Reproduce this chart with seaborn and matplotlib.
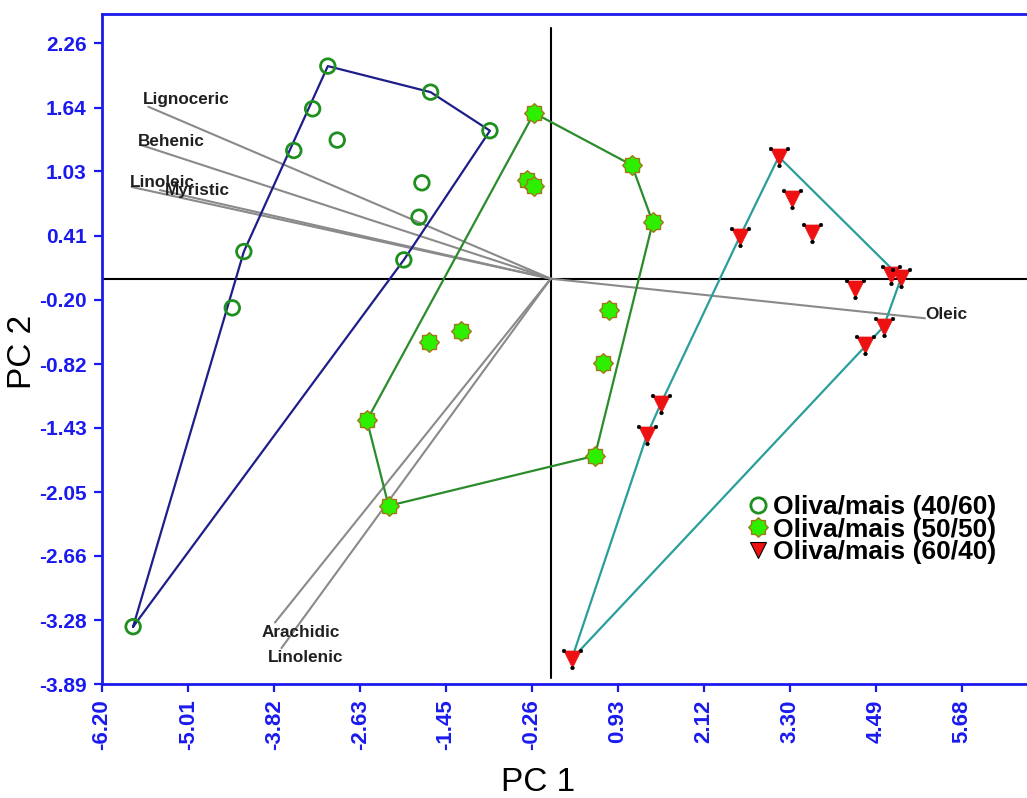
import numpy as np
import pandas as pd
import matplotlib
matplotlib.use("Agg")
import matplotlib.pyplot as plt
import seaborn as sns
from matplotlib.path import Path
from matplotlib.lines import Line2D

# ---- PCA scores (PC 1, PC 2) per blend ----
groups = ["Oliva/mais (40/60)", "Oliva/mais (50/50)", "Oliva/mais (60/40)"]

pc1_4060 = [-5.77, -4.40, -4.24, -3.55, -3.29, -3.08, -2.95, -1.66, -0.84, -1.78, -1.82, -2.03]
pc2_4060 = [-3.34, -0.28, 0.26, 1.23, 1.63, 2.04, 1.33, 1.79, 1.42, 0.92, 0.59, 0.18]

pc1_5050 = [-0.23, 1.12, 1.41, -0.33, -0.23, 0.80, 0.72, 0.61, -2.24, -2.54, -1.24, -1.68]
pc2_5050 = [1.59, 1.09, 0.54, 0.95, 0.89, -0.30, -0.81, -1.70, -2.18, -1.36, -0.50, -0.61]

pc1_6040 = [3.15, 3.34, 3.61, 2.61, 4.70, 4.84, 4.20, 4.60, 4.34, 1.52, 1.33, 0.29]
pc2_6040 = [1.17, 0.76, 0.44, 0.40, 0.035, 0.006, -0.10, -0.46, -0.64, -1.20, -1.50, -3.65]

# ---- fatty-acid loadings (scaled to the score space) ----
loading_names = ["Lignoceric", "Behenic", "Linoleic", "Myristic", "Oleic", "Arachidic", "Linolenic"]
loading_pc1 = [-5.56, -5.65, -5.79, -5.40, 5.17, -3.81, -3.72]
loading_pc2 = [1.65, 1.28, 0.88, 0.85, -0.38, -3.30, -3.545]

# ---- tick labels ----
xtick_values = [-6.20, -5.01, -3.82, -2.63, -1.45, -0.26, 0.93, 2.12, 3.30, 4.49, 5.68]
ytick_values = [2.26, 1.64, 1.03, 0.41, -0.20, -0.82, -1.43, -2.05, -2.66, -3.28, -3.89]

scores = pd.DataFrame({
    "PC 1": pc1_4060 + pc1_5050 + pc1_6040,
    "PC 2": pc2_4060 + pc2_5050 + pc2_6040,
    "blend": [groups[0]] * len(pc1_4060) + [groups[1]] * len(pc1_5050) + [groups[2]] * len(pc1_6040),
})

sns.set_theme(style="white")
plt.rcParams["font.family"] = ["Liberation Sans", "DejaVu Sans"]
plt.rcParams["axes.unicode_minus"] = False

AXIS_BLUE = "#1a1aee"
hull_colors = {groups[0]: "#1e1e8a", groups[1]: "#2a8c2a", groups[2]: "#2a9e9a"}


def convex_hull(points):
    """Andrew's monotone chain; returns closed hull vertices."""
    pts = sorted(set(map(tuple, points)))
    def cross(o, a, b):
        return (a[0] - o[0]) * (b[1] - o[1]) - (a[1] - o[1]) * (b[0] - o[0])
    lower, upper = [], []
    for p in pts:
        while len(lower) >= 2 and cross(lower[-2], lower[-1], p) <= 0:
            lower.pop()
        lower.append(p)
    for p in reversed(pts):
        while len(upper) >= 2 and cross(upper[-2], upper[-1], p) <= 0:
            upper.pop()
        upper.append(p)
    hull = lower[:-1] + upper[:-1]
    hull.append(hull[0])
    return np.array(hull)


# custom marker shapes
ang = np.linspace(0, 2 * np.pi, 17)[:-1] + np.pi / 2
rad = np.where(np.arange(16) % 2 == 0, 1.0, 0.78)
gear_verts = np.column_stack([rad * np.cos(ang), rad * np.sin(ang)])
gear_marker = Path(np.vstack([gear_verts, gear_verts[:1]]),
                   [Path.MOVETO] + [Path.LINETO] * 15 + [Path.CLOSEPOLY])

dot_r = 0.22
corner_dots = Path.make_compound_path(
    Path.circle((0, -1), dot_r), Path.circle((-1, 1), dot_r), Path.circle((1, 1), dot_r))
dot_scale = (1 + dot_r) ** 2

fig = plt.figure(figsize=(10.27, 7.98), dpi=100)
ax = fig.add_axes([102 / 1027, 1 - 684 / 798, 1 - 102 / 1027, (684 - 14) / 798])

# loading vectors
for name, lx, ly in zip(loading_names, loading_pc1, loading_pc2):
    ax.plot([0, lx], [0, ly], color="#8a8a8a", lw=1.5, zorder=2)

label_offsets = {
    "Lignoceric": (-4, 5), "Behenic": (-3, 3), "Linoleic": (-1.5, 3), "Myristic": (3.5, 0),
    "Oleic": (0, 3), "Arachidic": (-10, -7), "Linolenic": (-10, -6.5),
}
for name, lx, ly in zip(loading_names, loading_pc1, loading_pc2):
    ax.annotate(name, (lx, ly), xytext=label_offsets[name], textcoords="offset points",
                ha="left", va="center", fontsize=12.3, fontweight="bold", color="#202020",
                zorder=6)

# reference axes through the origin
ax.axhline(0, color="black", lw=1.5, zorder=1)
ax.plot([0, 0], [-3.83, 2.41], color="black", lw=1.5, zorder=1)

# convex hulls
for g in groups:
    sub = scores[scores["blend"] == g]
    hull = convex_hull(sub[["PC 1", "PC 2"]].values)
    ax.plot(hull[:, 0], hull[:, 1], color=hull_colors[g], lw=1.6, zorder=3)

# scores
g1 = scores[scores["blend"] == groups[0]]
sns.scatterplot(data=g1, x="PC 1", y="PC 2", marker="o", s=110, color="#1f8f1f",
                edgecolor="#1f8f1f", linewidth=2.0, ax=ax, zorder=5, legend=False)
ax.collections[-1].set_facecolor("none")

g2 = scores[scores["blend"] == groups[1]]
sns.scatterplot(data=g2, x="PC 1", y="PC 2", marker=gear_marker, s=200, color="#2cf000",
                edgecolor="#a0781a", linewidth=1.0, ax=ax, zorder=5, legend=False)

g3 = scores[scores["blend"] == groups[2]]
sns.scatterplot(data=g3, x="PC 1", y="PC 2", marker="v", s=150, color="#ee1111",
                edgecolor="#ee1111", linewidth=0.5, ax=ax, zorder=5, legend=False)
sns.scatterplot(data=g3, x="PC 1", y="PC 2", marker=corner_dots, s=150 * dot_scale,
                color="black", edgecolor="black", linewidth=0.3, ax=ax, zorder=5,
                legend=False)

# axes styling
ax.set_xlim(-6.20, 6.58)
ax.set_ylim(-3.89, 2.54)
ax.set_xticks(xtick_values)
ax.set_xticklabels([f"{v:.2f}" for v in xtick_values], rotation=90)
ax.set_yticks(ytick_values)
ax.set_yticklabels([f"{v:.2f}" for v in ytick_values])
ax.tick_params(axis="both", direction="out", length=6, width=1.6, color=AXIS_BLUE,
               labelcolor=AXIS_BLUE, pad=5)
ax.tick_params(axis="y", labelsize=15)
ax.tick_params(axis="x", labelsize=16)
for lab in ax.get_xticklabels() + ax.get_yticklabels():
    lab.set_fontweight("bold")
ax.tick_params(left=True, bottom=True)
for side in ["left", "bottom", "top"]:
    ax.spines[side].set_color(AXIS_BLUE)
    ax.spines[side].set_linewidth(2.0)
ax.spines["right"].set_visible(False)
ax.grid(False)

ax.set_xlabel("PC 1", fontsize=24, color="black")
ax.set_ylabel("PC 2", fontsize=24, color="black")
ax.xaxis.set_label_coords((538 - 102) / 925, (684 - 767) / 670)
ax.yaxis.set_label_coords((38 - 102) / 925, (684 - 352) / 670)

# legend
handles = [
    Line2D([], [], ls="none", marker="o", ms=11, mfc="none", mec="#1f8f1f", mew=2.0),
    Line2D([], [], ls="none", marker=gear_marker, ms=14, mfc="#2cf000", mec="#a0781a", mew=1.0),
    Line2D([], [], ls="none", marker="v", ms=12, mfc="#ee1111", mec="black", mew=0.8),
]
leg = ax.legend(handles, groups, loc="upper left", bbox_to_anchor=(748 / 1027, 1 - 495 / 798),
                bbox_transform=fig.transFigure, frameon=False,
                prop={"weight": "bold", "size": 19}, handlelength=0.75, handletextpad=0.2,
                borderpad=0, borderaxespad=0, labelspacing=-0.05)
for t in leg.get_texts():
    t.set_color("black")

fig.savefig("out.png", dpi=100)
